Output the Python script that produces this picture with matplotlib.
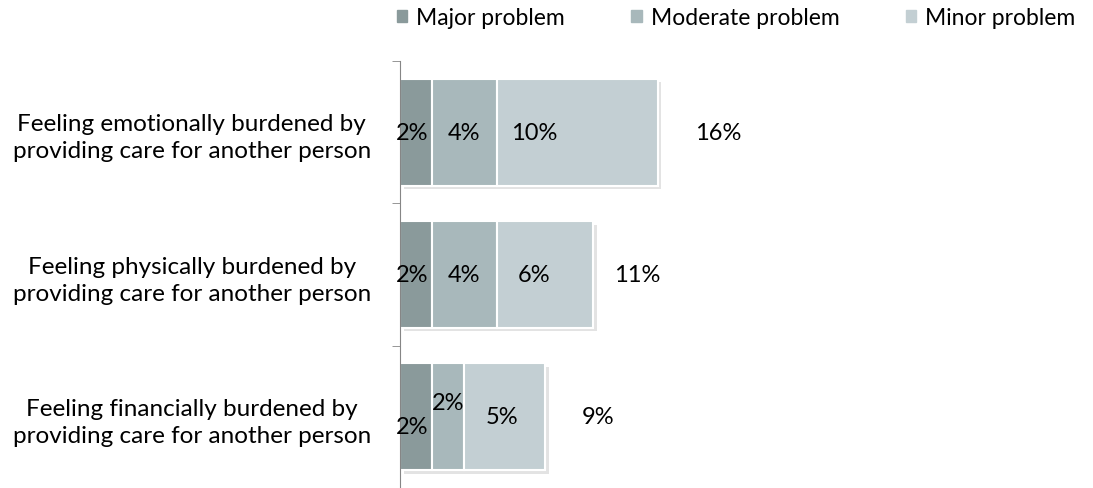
import numpy as np
import matplotlib.pyplot as plt
import matplotlib.patheffects as pe

# data
categories = ["Feeling emotionally burdened by\nproviding care for another person",
              "Feeling physically burdened by\nproviding care for another person",
              "Feeling financially burdened by\nproviding care for another person"]
major = [2, 2, 2]
moderate = [4, 4, 2]
minor = [10, 6, 5]
totals = [16, 11, 9]
series_names = ["Major problem", "Moderate problem", "Minor problem"]
colors = ["#8a9a9b", "#a8b8bb", "#c3cfd3"]

plt.rcParams['font.family'] = ['Lato', 'DejaVu Sans']

fig = plt.figure(figsize=(10.93, 4.89), dpi=100)
ax = fig.add_axes([0.366, 0.0, 0.634, 0.873])

y = np.arange(len(categories))
shadow = [pe.SimplePatchShadow(offset=(2.5, -2.5), shadow_rgbFace="#b0b0b0", alpha=0.35), pe.Normal()]
left = np.zeros(len(categories))
bars = []
for vals, name, c in zip([major, moderate, minor], series_names, colors):
    b = ax.barh(y, vals, left=left, height=0.75, color=c, edgecolor="white",
                linewidth=1.5, label=name)
    for p in b:
        p.set_path_effects(shadow)
    bars.append(b)
    left = left + np.array(vals)

# segment labels
fs = 17
for i in range(len(categories)):
    ax.text(major[i] / 2 - 0.25, y[i] + (0.07 if i == 2 else 0), f"{major[i]}%",
            ha="center", va="center", fontsize=fs)
    ax.text(major[i] + moderate[i] / 2, y[i] - (0.1 if i == 2 else 0), f"{moderate[i]}%",
            ha="center", va="center", fontsize=fs)
    x0 = major[i] + moderate[i]
    ax.text(x0 + min(minor[i] / 2, 2.3), y[i], f"{minor[i]}%",
            ha="center", va="center", fontsize=fs)
    ax.text(totals[i] + 2.3, y[i], f"{totals[i]}%", ha="left", va="center", fontsize=fs)

ax.set_xlim(0, 43)
ax.set_ylim(len(categories) - 0.5, -0.5)
ax.set_yticks(y)
ax.set_yticklabels(categories, fontsize=17.5, linespacing=1.35)
for lbl in ax.get_yticklabels():
    lbl.set_ha("center")
    lbl.set_multialignment("center")
ax.set_yticks(np.arange(len(categories) + 1) - 0.5, minor=True)
ax.tick_params(axis="y", which="major", length=0, pad=150)
ax.tick_params(axis="y", which="minor", length=6, color="#868686")
ax.set_xticks([])
for s in ["top", "right", "bottom"]:
    ax.spines[s].set_visible(False)
ax.spines["left"].set_color("#868686")

handles = [plt.Rectangle((0, 0), 1, 1, color=c) for c in colors]
fig.legend(handles=handles, labels=series_names, loc="upper right", ncol=3,
           bbox_to_anchor=(1.003, 1.025), frameon=False, fontsize=16.5,
           handlelength=0.45, handleheight=0.45, columnspacing=2.9, handletextpad=0.4)

fig.savefig("out.png", dpi=100)
